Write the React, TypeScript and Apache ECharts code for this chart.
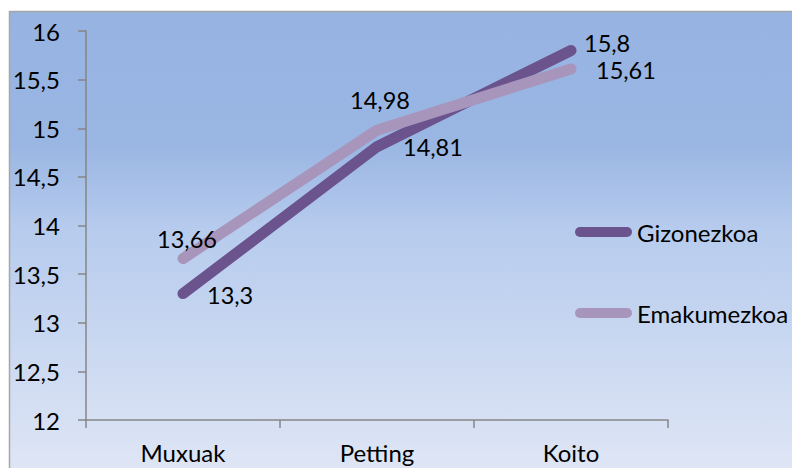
import React, { useEffect, useRef } from "react";
import * as echarts from "echarts";

const categories = ["Muxuak", "Petting", "Koito"];
const gizonezkoa = [13.3, 14.81, 15.8];
const emakumezkoa = [13.66, 14.98, 15.61];
const seriesNames = ["Gizonezkoa", "Emakumezkoa"];
const colors = ["#6b538e", "#a895bb"];

const FONT = "Lato";

export default function App() {
  const ref = useRef<HTMLDivElement>(null);
  useEffect(() => {
    if (!ref.current) return;
    const chart = echarts.init(ref.current, null, { renderer: "svg" });
    const fmt = (v: number) => String(v).replace(".", ",");
    const lbl = (pos: "right" | "top", dx: number, dy: number) =>
      pos === "right"
        ? { show: true, position: "inside", align: "left", verticalAlign: "middle", offset: [dx, dy] }
        : { show: true, position: "inside", align: "center", verticalAlign: "middle", offset: [dx, dy] };
    const gLabels = [lbl("right", 24, 1), lbl("right", 26, 0), lbl("right", 13, -7)];
    const eLabels = [lbl("top", 4, -20), lbl("top", 3, -30), lbl("right", 25, 1)];
    const mk = (name: string, vals: number[], color: string, labels: any[]) => ({
      name,
      type: "line",
      data: vals.map((v, i) => ({ value: v, label: labels[i] })),
      color,
      symbol: "circle",
      symbolSize: 1,
      showSymbol: true,
      itemStyle: { color },
      lineStyle: { color, width: 11, cap: "round", join: "round" },
      label: {
        show: true,
        color: "#000",
        fontFamily: FONT,
        fontSize: 23.5,
        formatter: (p: any) => fmt(p.value),
      },
      emphasis: { disabled: true },
    });
    chart.setOption({
      animation: false,
      graphic: [
        {
          type: "rect",
          z: -10,
          shape: { x: 9.5, y: 11.5, width: 800, height: 480 },
          style: {
            stroke: "#a6a6a6",
            lineWidth: 1.5,
            fill: new echarts.graphic.LinearGradient(0, 0, 0, 1, [
              { offset: 0, color: "#96b3e2" },
              { offset: 0.28, color: "#9ab6e3" },
              { offset: 0.45, color: "#b6cbed" },
              { offset: 1, color: "#e2e8f6" },
            ]),
          },
        },
      ],
      legend: {
        orient: "vertical",
        left: 575,
        top: 218,
        padding: 0,
        itemGap: 53,
        itemWidth: 57,
        itemHeight: 10,
        itemTextGap: 3,
        icon: "path://M5,0 H52 A5,5 0 0 1 52,10 H5 A5,5 0 0 1 5,0 Z",
        textStyle: { fontFamily: FONT, fontSize: 24, color: "#000", lineHeight: 28 },
        data: seriesNames.map((n, i) => ({ name: n, itemStyle: { color: colors[i], opacity: 1 } })),
        selectedMode: false,
      },
      grid: { left: 86, top: 31, right: 124, bottom: 48, containLabel: false },
      xAxis: {
        type: "category",
        data: categories,
        boundaryGap: true,
        axisLine: { lineStyle: { color: "#868686", width: 1.5 } },
        axisTick: { show: true, length: 8, lineStyle: { color: "#868686", width: 1.5 } },
        axisLabel: { fontFamily: FONT, fontSize: 24, color: "#000", margin: 20 },
        splitLine: { show: false },
      },
      yAxis: {
        type: "value",
        min: 12,
        max: 16,
        interval: 0.5,
        axisLine: { show: true, lineStyle: { color: "#868686", width: 1.5 } },
        axisTick: { show: true, length: 8, lineStyle: { color: "#868686", width: 1.5 } },
        axisLabel: {
          fontFamily: FONT,
          fontSize: 24,
          color: "#000",
          margin: 26,
          formatter: (v: number) => fmt(v),
        },
        splitLine: { show: false },
      },
      series: [
        mk(seriesNames[0], gizonezkoa, colors[0], gLabels),
        mk(seriesNames[1], emakumezkoa, colors[1], eLabels),
      ],
    });
    return () => chart.dispose();
  }, []);
  return (
    <div
      ref={ref}
      style={{ position: "absolute", left: 0, top: 0, width: 792, height: 468 }}
    />
  );
}
